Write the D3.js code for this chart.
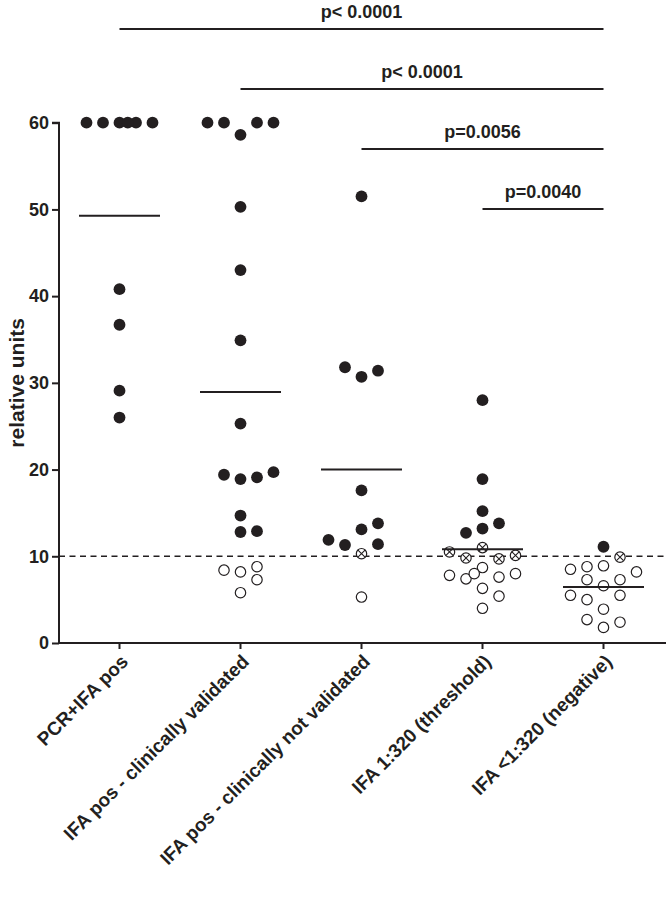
<!DOCTYPE html>
<html><head><meta charset="utf-8">
<script src="https://cdn.jsdelivr.net/npm/d3@7"></script>
<style>
body{margin:0;background:#fff}
svg{display:block}
text{font-family:"Liberation Sans",Arial,Helvetica,sans-serif;font-weight:bold;fill:#231f20}
</style>
</head><body>
<svg id="chart" width="666" height="908"></svg>
<script>
// ---------- data ----------
const categories = [
  "PCR+IFA pos",
  "IFA pos - clinically validated",
  "IFA pos - clinically not validated",
  "IFA 1:320 (threshold)",
  "IFA <1:320 (negative)"
];
// kinds: f = filled, o = open, x = crossed open circle
const pcrIfaValues = [26.0, 29.1, 36.7, 40.8, 60, 60, 60, 60, 60, 60];
const pcrIfaKinds  = ["f","f","f","f","f","f","f","f","f","f"];

const validatedValues = [5.8, 8.2, 12.8, 14.7, 18.9, 25.3, 34.9, 43.0, 50.3, 58.6, 7.3, 8.4, 8.8, 12.9, 19.1, 19.4, 19.7, 60, 60, 60, 60];
const validatedKinds  = ["o","o","f","f","f","f","f","f","f","f","o","o","o","f","f","f","f","f","f","f","f"];

const notValidatedValues = [5.3, 10.3, 13.1, 17.6, 30.7, 51.5, 11.4, 11.3, 11.9, 13.8, 31.4, 31.8];
const notValidatedKinds  = ["o","x","f","f","f","f","f","f","f","f","f","f"];

const thresholdValues = [4.0, 6.3, 8.7, 11.0, 13.2, 15.2, 18.9, 28.0, 5.4, 9.7, 7.4, 7.6, 9.8, 7.8, 8.0, 10.1, 10.5, 8.0, 13.8, 12.7];
const thresholdKinds  = ["o","o","o","x","f","f","f","f","o","x","o","o","x","o","o","x","x","o","f","f"];

const negativeValues = [1.8, 3.9, 6.6, 8.9, 11.1, 2.4, 2.7, 5.5, 5.0, 5.5, 7.3, 7.3, 9.9, 8.8, 8.2, 8.5];
const negativeKinds  = ["o","o","o","o","f","o","o","o","o","o","o","o","x","o","o","o"];

const groupValues = [pcrIfaValues, validatedValues, notValidatedValues, thresholdValues, negativeValues];
const groupKinds  = [pcrIfaKinds, validatedKinds, notValidatedKinds, thresholdKinds, negativeKinds];

const yTicks = [0, 10, 20, 30, 40, 50, 60];
const cutoffValue = 10;
const yAxisTitle = "relative units";

const compFrom   = [0, 1, 2, 3];
const compTo     = [4, 4, 4, 4];
const compLabels = ["p< 0.0001", "p< 0.0001", "p=0.0056", "p=0.0040"];

// ---------- layout ----------
const svg = d3.select("#chart");
const ink = "#231f20";
const x = d3.scaleBand().domain(categories).range([59, 664]).padding(0);
const y = d3.scaleLinear().domain([0, 60]).range([643, 122.7]);
const cx = c => x(c) + x.bandwidth() / 2;

// beeswarm placement (collision-based, processed in data order)
function swarm(values, kinds, centerX) {
  const T = 12.8, W = 26, s = 16.5;
  const placed = [];
  values.forEach((v, i) => {
    const py = y(v);
    const blocked = k => placed.some(p => p.slot === k && Math.abs(p.py - py) < T);
    const sideScore = sign => {
      let m = W;
      placed.forEach(p => { if (p.slot * sign > 0) m = Math.min(m, Math.abs(p.py - py)); });
      return m;
    };
    let slot = null;
    if (!blocked(0)) slot = 0;
    else {
      for (let k = 1; k <= 2 && slot === null; k++) {
        const fp = !blocked(k), fm = !blocked(-k);
        if (fp && fm) slot = (sideScore(-1) > sideScore(1) + 1e-6) ? -k : k;
        else if (fp) slot = k;
        else if (fm) slot = -k;
      }
    }
    if (slot === null) {
      let best = 0.5, bestScore = -1;
      [0.5, -0.5, 1.5, -1.5].forEach(h => {
        const a = Math.floor(h), b = Math.ceil(h);
        let m = Infinity;
        placed.forEach(p => { if (p.slot === a || p.slot === b) m = Math.min(m, Math.abs(p.py - py)); });
        if (m > bestScore + 1e-6) { bestScore = m; best = h; }
      });
      slot = best;
    }
    placed.push({v, kind: kinds[i], slot, py, px: centerX + slot * s});
  });
  return placed;
}

// ---------- axes ----------
const yAxis = d3.axisLeft(y).tickValues(yTicks).tickSize(7).tickPadding(3).tickFormat(d3.format("d"));
const gy = svg.append("g").attr("transform", "translate(59,0)").call(yAxis);
gy.select(".domain").attr("stroke", ink).attr("stroke-width", 2).attr("d", `M-7,${y(60)}H0V${y(0)}`);
gy.selectAll(".tick line").attr("stroke", ink).attr("stroke-width", 2);
gy.selectAll(".tick text").attr("font-size", 18).attr("font-family", null).style("fill", ink);

const xAxis = d3.axisBottom(x).tickSize(6).tickFormat("");
const gx = svg.append("g").attr("transform", "translate(0,643)").call(xAxis);
gx.select(".domain").attr("stroke", ink).attr("stroke-width", 2).attr("d", "M59,0H666");
gx.selectAll(".tick line").attr("stroke", ink).attr("stroke-width", 2);

// x category labels (rotated)
svg.append("g").selectAll("text").data(categories).join("text")
  .attr("transform", d => `translate(${cx(d) + 5},${658}) rotate(-45)`)
  .attr("text-anchor", "end")
  .attr("dy", "0.35em")
  .attr("font-size", 19)
  .text(d => d);

// y title
svg.append("text")
  .attr("transform", `translate(24,${(y(0) + y(60)) / 2}) rotate(-90)`)
  .attr("text-anchor", "middle")
  .attr("font-size", 21)
  .text(yAxisTitle);

// cutoff dashed line
svg.append("line")
  .attr("x1", 59).attr("x2", 666)
  .attr("y1", y(cutoffValue)).attr("y2", y(cutoffValue))
  .attr("stroke", ink).attr("stroke-width", 1.6).attr("stroke-dasharray", "6,4.5");

// ---------- points ----------
const r = 5.9, ro = 5.2;
categories.forEach((c, gi) => {
  const pts = swarm(groupValues[gi], groupKinds[gi], cx(c));
  const g = svg.append("g");
  g.selectAll("circle.f").data(pts.filter(p => p.kind === "f")).join("circle")
    .attr("class", "f").attr("cx", p => p.px).attr("cy", p => p.py).attr("r", r).attr("fill", ink);
  g.selectAll("circle.o").data(pts.filter(p => p.kind !== "f")).join("circle")
    .attr("class", "o").attr("cx", p => p.px).attr("cy", p => p.py).attr("r", ro)
    .attr("fill", "#fff").attr("stroke", ink).attr("stroke-width", 1.2);
  const xs = pts.filter(p => p.kind === "x");
  const d = ro * 0.68;
  g.selectAll("path.x").data(xs).join("path")
    .attr("class", "x")
    .attr("d", p => `M${p.px - d},${p.py - d}L${p.px + d},${p.py + d}M${p.px - d},${p.py + d}L${p.px + d},${p.py - d}`)
    .attr("stroke", ink).attr("stroke-width", 1.1).attr("fill", "none");
  const m = d3.mean(groupValues[gi]);
  g.append("line")
    .attr("x1", cx(c) - 40.5).attr("x2", cx(c) + 40.5)
    .attr("y1", y(m)).attr("y2", y(m))
    .attr("stroke", ink).attr("stroke-width", 2);
});

// ---------- significance brackets ----------
const bracketTop = 29, bracketStep = 60;
compFrom.forEach((f, i) => {
  const x1 = cx(categories[f]), x2 = cx(categories[compTo[i]]);
  const yy = bracketTop + i * bracketStep;
  svg.append("line").attr("x1", x1).attr("x2", x2).attr("y1", yy).attr("y2", yy)
    .attr("stroke", ink).attr("stroke-width", 2);
  svg.append("text").attr("x", (x1 + x2) / 2).attr("y", yy - 11)
    .attr("text-anchor", "middle").attr("font-size", 18).text(compLabels[i]);
});
</script>
</body></html>
